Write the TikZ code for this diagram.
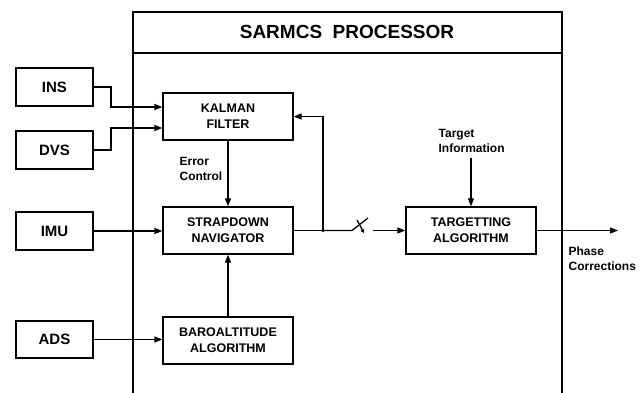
\documentclass[tikz,border=0pt]{standalone}
\usepackage{fontspec}
\setmainfont{Liberation Sans}
\usetikzlibrary{arrows.meta}
\begin{document}
\begin{tikzpicture}[x=1pt,y=-1pt,
  line width=1.3pt,
  blk/.style={draw, line width=1.3pt, minimum width=130pt, minimum height=47pt, inner sep=0pt, align=center, font=\bfseries\fontsize{12.5}{16}\selectfont},
  src/.style={draw, line width=1.3pt, minimum width=77pt, minimum height=38pt, inner sep=0pt, font=\bfseries\fontsize{15}{18}\selectfont},
  lbl/.style={inner sep=0pt, align=left, font=\bfseries\fontsize{12}{15}\selectfont},
  arr/.style={-{Triangle[length=8pt,width=6pt]}},
]
\useasboundingbox (0,0) rectangle (641,393);

% processor frame
\coordinate (fbl) at (133,393);
\coordinate (ftl) at (133,12);
\coordinate (ftr) at (562,12);
\coordinate (fbr) at (562,393);
\coordinate (sl) at (133,53);
\coordinate (sr) at (562,53);
\draw (fbl) -- (ftl) -- (ftr) -- (fbr);
\draw (sl) -- (sr);
\node[font=\bfseries\fontsize{19}{22}\selectfont, inner sep=0pt] (title) at (347,32) {SARMCS\ \ PROCESSOR};

% sources
\node[src] (ins) at (54.5,87) {INS};
\node[src] (dvs) at (54.5,150) {DVS};
\node[src] (imu) at (54.5,231) {IMU};
\node[src, minimum height=37pt] (ads) at (54.5,339.5) {ADS};

% blocks
\node[blk] (kal) at (228,116.5) {KALMAN\\FILTER};
\node[blk] (sd) at (228,230.5) {STRAPDOWN\\NAVIGATOR};
\node[blk] (baro) at (228,340.5) {BAROALTITUDE\\ALGORITHM};
\node[blk] (tgt) at (471,230.5) {TARGETTING\\ALGORITHM};

% labels
\node[lbl, anchor=west] (ec) at (179,168.5) {Error\\Control};
\node[lbl, anchor=west] (ti) at (438,140.5) {Target\\Information};
\node[lbl, anchor=west] (pc) at (568,259) {Phase\\Corrections};

% connectors
\draw[arr] (ins.east) -| (111,107) -- (kal.west |- 0,107);
\draw[arr] (dvs.east) -| (111,128) -- (kal.west |- 0,128);
\draw[arr] (imu.east) -- (sd.west |- imu.east);
\draw[arr] (ads.east) -- (baro.west |- ads.east);
\draw[arr] (kal.south) -- (sd.north);
\draw[arr] (baro.north) -- (sd.south);

\coordinate (junc) at (323,230.5);
\draw (sd.east) -- (junc);
\fill (junc) circle (1.8pt);
\draw[arr] (junc) |- (kal.east);

% switch
\coordinate (sw1) at (352,230.5);
\coordinate (sw2) at (368,218);
\coordinate (xa) at (357,220);
\coordinate (xb) at (364,233);
\coordinate (sw3) at (373,230.5);
\draw (junc) -- (sw1) -- (sw2);
\draw[-{Triangle[length=3.5pt,width=4pt]}] (xa) -- (xb);
\draw[arr] (sw3) -- (tgt.west);

\draw[arr] ([yshift=-5pt]tgt.north |- ti.south) -- (tgt.north);
\coordinate (out) at (618,230.5);
\draw[arr] (tgt.east) -- (out);
\end{tikzpicture}
\end{document}
